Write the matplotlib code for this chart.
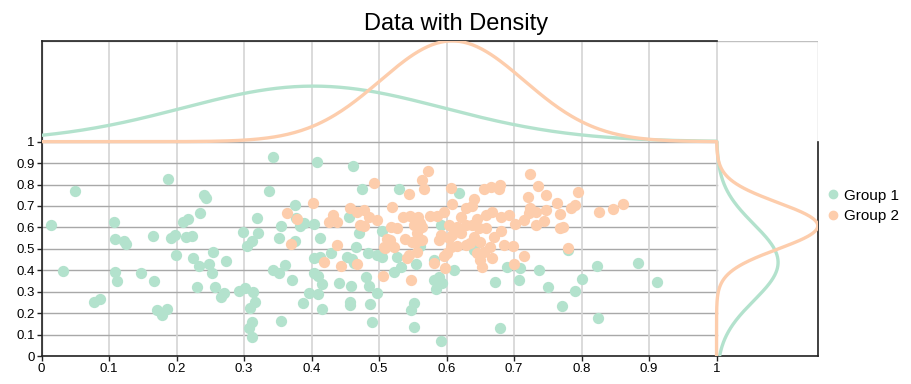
import numpy as np
import matplotlib
matplotlib.use("Agg")
import matplotlib.pyplot as plt
from matplotlib.lines import Line2D
from matplotlib.patches import Rectangle

plt.rcParams['font.family'] = ['Liberation Sans', 'DejaVu Sans']

# points
group1_x = [0.014, 0.050, 0.032, 0.077, 0.086, 0.107, 0.108, 0.122, 0.125, 0.109,
            0.112, 0.147, 0.165, 0.167, 0.171, 0.179, 0.186, 0.187, 0.192, 0.197,
            0.199, 0.209, 0.217, 0.214, 0.223, 0.235, 0.241, 0.243, 0.224, 0.233,
            0.248, 0.253, 0.254, 0.273, 0.230, 0.257, 0.266, 0.270, 0.293, 0.302,
            0.313, 0.298, 0.304, 0.311, 0.316, 0.308, 0.312, 0.307, 0.311, 0.343,
            0.337, 0.319, 0.321, 0.355, 0.352, 0.408, 0.462, 0.475, 0.375, 0.383,
            0.388, 0.377, 0.404, 0.412, 0.376, 0.455, 0.470, 0.466, 0.429, 0.403,
            0.412, 0.452, 0.460, 0.463, 0.483, 0.497, 0.343, 0.351, 0.360, 0.403,
            0.410, 0.415, 0.371, 0.440, 0.458, 0.481, 0.485, 0.497, 0.396, 0.409,
            0.387, 0.415, 0.457, 0.457, 0.486, 0.490, 0.355, 0.529, 0.618, 0.505,
            0.504, 0.527, 0.522, 0.532, 0.554, 0.581, 0.611, 0.581, 0.588, 0.593,
            0.585, 0.551, 0.547, 0.551, 0.591, 0.561, 0.592, 0.640, 0.689, 0.709,
            0.671, 0.707, 0.737, 0.750, 0.771, 0.679, 0.780, 0.823, 0.884, 0.801,
            0.790, 0.825, 0.912]
group1_y = [0.611, 0.770, 0.397, 0.253, 0.264, 0.625, 0.544, 0.537, 0.521, 0.393,
            0.351, 0.389, 0.558, 0.350, 0.213, 0.190, 0.218, 0.826, 0.551, 0.563,
            0.470, 0.625, 0.641, 0.555, 0.560, 0.666, 0.752, 0.735, 0.458, 0.420,
            0.429, 0.389, 0.486, 0.442, 0.324, 0.321, 0.277, 0.294, 0.303, 0.319,
            0.297, 0.580, 0.514, 0.537, 0.250, 0.222, 0.160, 0.132, 0.087, 0.930,
            0.772, 0.646, 0.574, 0.608, 0.549, 0.904, 0.888, 0.779, 0.705, 0.607,
            0.622, 0.645, 0.616, 0.552, 0.538, 0.650, 0.575, 0.510, 0.482, 0.456,
            0.463, 0.461, 0.451, 0.435, 0.479, 0.471, 0.401, 0.385, 0.423, 0.389,
            0.373, 0.336, 0.355, 0.342, 0.327, 0.367, 0.327, 0.295, 0.295, 0.289,
            0.249, 0.221, 0.253, 0.238, 0.243, 0.160, 0.162, 0.778, 0.759, 0.585,
            0.461, 0.463, 0.393, 0.414, 0.429, 0.448, 0.401, 0.355, 0.367, 0.339,
            0.311, 0.249, 0.215, 0.133, 0.071, 0.513, 0.610, 0.495, 0.414, 0.409,
            0.344, 0.355, 0.401, 0.320, 0.233, 0.129, 0.495, 0.420, 0.432, 0.358,
            0.305, 0.176, 0.344]

group2_x = [0.493, 0.402, 0.364, 0.379, 0.457, 0.467, 0.478, 0.485, 0.497, 0.432,
            0.425, 0.438, 0.472, 0.478, 0.369, 0.438, 0.419, 0.443, 0.467, 0.572,
            0.564, 0.566, 0.545, 0.607, 0.519, 0.608, 0.596, 0.628, 0.621, 0.536,
            0.546, 0.557, 0.575, 0.586, 0.517, 0.527, 0.551, 0.560, 0.564, 0.603,
            0.616, 0.628, 0.556, 0.564, 0.554, 0.538, 0.549, 0.591, 0.588, 0.603,
            0.608, 0.621, 0.512, 0.507, 0.522, 0.616, 0.628, 0.606, 0.601, 0.596,
            0.544, 0.556, 0.542, 0.581, 0.598, 0.506, 0.547, 0.723, 0.736, 0.748,
            0.720, 0.763, 0.768, 0.655, 0.666, 0.679, 0.677, 0.640, 0.638, 0.724,
            0.722, 0.732, 0.747, 0.645, 0.658, 0.668, 0.680, 0.692, 0.702, 0.715,
            0.732, 0.744, 0.638, 0.648, 0.658, 0.680, 0.670, 0.768, 0.640, 0.650,
            0.635, 0.665, 0.685, 0.699, 0.645, 0.655, 0.668, 0.650, 0.653, 0.715,
            0.700, 0.795, 0.784, 0.790, 0.773, 0.780, 0.826, 0.847, 0.861, 0.516,
            0.508]
group2_y = [0.809, 0.712, 0.669, 0.638, 0.689, 0.673, 0.681, 0.650, 0.635, 0.658,
            0.627, 0.627, 0.611, 0.607, 0.521, 0.517, 0.439, 0.420, 0.429, 0.863,
            0.821, 0.778, 0.754, 0.786, 0.697, 0.708, 0.673, 0.689, 0.650, 0.647,
            0.653, 0.650, 0.653, 0.653, 0.603, 0.596, 0.611, 0.622, 0.600, 0.611,
            0.600, 0.611, 0.573, 0.541, 0.533, 0.545, 0.533, 0.565, 0.541, 0.549,
            0.565, 0.573, 0.545, 0.510, 0.507, 0.513, 0.518, 0.510, 0.479, 0.467,
            0.471, 0.487, 0.456, 0.432, 0.409, 0.373, 0.355, 0.848, 0.793, 0.751,
            0.740, 0.712, 0.663, 0.778, 0.790, 0.798, 0.778, 0.731, 0.700, 0.689,
            0.666, 0.673, 0.681, 0.638, 0.658, 0.673, 0.650, 0.658, 0.616, 0.635,
            0.611, 0.631, 0.611, 0.596, 0.596, 0.585, 0.554, 0.596, 0.557, 0.533,
            0.526, 0.510, 0.518, 0.513, 0.479, 0.487, 0.456, 0.448, 0.417, 0.467,
            0.429, 0.767, 0.689, 0.704, 0.600, 0.506, 0.671, 0.685, 0.709, 0.541,
            0.502]

groups = ["Group 1", "Group 2"]
colors = ["#b3e2cd", "#fdcdac"]
ticks = np.round(np.arange(0, 1.01, 0.1), 1)


def density(vals, grid):
    # normal curve fitted to the points
    vals = np.asarray(vals)
    m, s = vals.mean(), vals.std()
    return np.exp(-0.5 * ((grid - m) / s) ** 2) / (s * np.sqrt(2 * np.pi))


fig = plt.figure(figsize=(9.12, 3.84), dpi=100)
ax = fig.add_axes([0.0457, 0.0729, 0.851, 0.8206])
x_max, y_max = 1.15, 1.47
ax.set_xlim(0, x_max)
ax.set_ylim(0, y_max)

# grid
for t in ticks:
    ax.axvline(t, color="#d4d4d4", lw=1.2, zorder=0)
    if t > 0:
        ax.plot([0, 1], [t, t], color="#a8a8a8", lw=1.0, zorder=0)

ax.scatter(group1_x, group1_y, s=66, color=colors[0], linewidths=0, zorder=2)
ax.scatter(group2_x, group2_y, s=66, color=colors[1], linewidths=0, zorder=3)

# margin densities: top over x, right over y, joined at (1, 1)
gx = np.linspace(0, 1, 300)
gy = np.linspace(1, 0, 300)
top = [density(group1_x, gx), density(group2_x, gx)]
right = [density(group1_y, gy), density(group2_y, gy)]
top_k = (y_max - 1) / max(d.max() for d in top)
right_k = (x_max - 1) / max(d.max() for d in right)
for i in range(2):
    xs = np.concatenate([gx, 1 + right[i] * right_k])
    ys = np.concatenate([1 + top[i] * top_k, gy])
    ax.plot(xs, ys, color=colors[i], lw=2.4, zorder=4, solid_capstyle="butt")

# frame
for side in ["top", "right"]:
    ax.spines[side].set_bounds(0, 1)
for sp in ax.spines.values():
    sp.set_color("#222222")
    sp.set_linewidth(1.2)
ax.add_patch(Rectangle((0, 0), 1, 1, transform=ax.transAxes, fill=False,
                       edgecolor="#c0c0c0", lw=1.0, zorder=0.5))

ax.set_xticks(ticks)
ax.set_yticks(ticks)
ax.set_xticklabels([f"{t:g}" for t in ticks])
ax.set_yticklabels([f"{t:g}" for t in ticks])
ax.tick_params(labelsize=9.5, length=3.5, width=1, pad=1.5, colors="#222222",
               labelcolor="black")

fig.suptitle("Data with Density", fontsize=17, x=0.5, y=0.937, va="center")

handles = [Line2D([], [], marker="o", ls="", color=c, markersize=6) for c in colors]
fig.legend(handles, groups, loc="upper left", bbox_to_anchor=(0.897, 0.525),
           frameon=False, fontsize=11, handletextpad=0.1, labelspacing=0.45,
           handlelength=1.2, borderaxespad=0)

fig.savefig("out.png", dpi=100)
